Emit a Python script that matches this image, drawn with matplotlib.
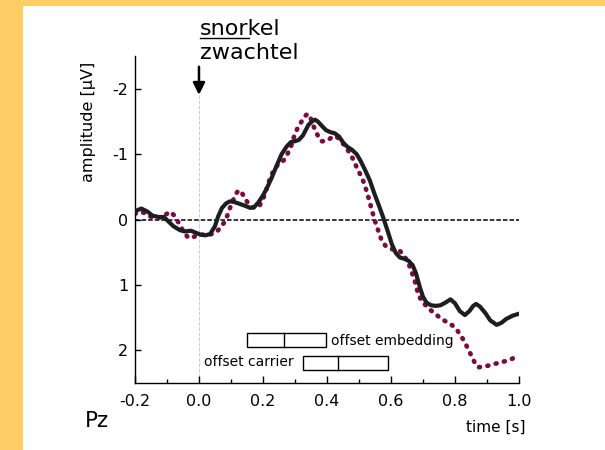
import matplotlib
matplotlib.use('Agg')
import matplotlib.pyplot as plt
from matplotlib.patches import Rectangle
from matplotlib.lines import Line2D
import numpy as np

plt.rcParams['font.family'] = 'DejaVu Sans'

# ERP at Pz: time [s] and amplitude [uV] (negative up)
t_embed = np.array([-0.2, -0.18, -0.16, -0.145, -0.125, -0.11, -0.095, -0.08, -0.06, -0.045,
                    -0.025, -0.01, 0.005, 0.02, 0.035, 0.05, 0.06, 0.072, 0.085, 0.097,
                    0.11, 0.128, 0.145, 0.16, 0.172, 0.185, 0.2, 0.212, 0.228, 0.243,
                    0.258, 0.274, 0.288, 0.3, 0.312, 0.325, 0.342, 0.355, 0.3625, 0.372,
                    0.385, 0.397, 0.41, 0.425, 0.438, 0.452, 0.465, 0.478, 0.493, 0.505,
                    0.52, 0.534, 0.548, 0.562, 0.576, 0.59, 0.603, 0.615, 0.628, 0.642,
                    0.655, 0.668, 0.678, 0.69, 0.7, 0.711, 0.725, 0.74, 0.755, 0.77,
                    0.786, 0.8, 0.815, 0.831, 0.845, 0.857, 0.866, 0.878, 0.895, 0.91,
                    0.93, 0.945, 0.96, 0.98, 1.0])
v_embed = np.array([-0.13, -0.17, -0.12, -0.06, -0.04, -0.04, 0.03, 0.10, 0.16, 0.18,
                    0.17, 0.20, 0.23, 0.24, 0.22, 0.10, -0.05, -0.18, -0.25, -0.28,
                    -0.27, -0.24, -0.21, -0.18, -0.19, -0.26, -0.37, -0.48, -0.65, -0.83,
                    -1.00, -1.12, -1.19, -1.20, -1.22, -1.29, -1.45, -1.51, -1.53, -1.50,
                    -1.43, -1.37, -1.34, -1.32, -1.27, -1.17, -1.11, -1.07, -1.00, -0.90,
                    -0.75, -0.60, -0.40, -0.22, -0.03, 0.18, 0.38, 0.51, 0.58, 0.60,
                    0.63, 0.70, 0.82, 1.03, 1.18, 1.27, 1.31, 1.32, 1.31, 1.27,
                    1.22, 1.28, 1.40, 1.46, 1.40, 1.32, 1.29, 1.33, 1.43, 1.54,
                    1.61, 1.58, 1.52, 1.47, 1.44])

t_carrier = np.array([-0.2, -0.185, -0.174, -0.158, -0.143, -0.128, -0.115, -0.1, -0.088, -0.075,
                      -0.06, -0.046, -0.033, -0.02, -0.005, 0.01, 0.025, 0.04, 0.057, 0.07,
                      0.081, 0.09, 0.097, 0.107, 0.116, 0.124, 0.133, 0.143, 0.155, 0.167,
                      0.18, 0.19, 0.2, 0.21, 0.222, 0.233, 0.245, 0.256, 0.265, 0.276,
                      0.287, 0.297, 0.308, 0.318, 0.33, 0.34, 0.347, 0.355, 0.363, 0.373,
                      0.383, 0.394, 0.404, 0.415, 0.425, 0.435, 0.445, 0.455, 0.467, 0.48,
                      0.492, 0.505, 0.517, 0.529, 0.54, 0.55, 0.561, 0.571, 0.583, 0.595,
                      0.61, 0.628, 0.642, 0.654, 0.665, 0.675, 0.683, 0.691, 0.701, 0.711,
                      0.725, 0.748, 0.765, 0.779, 0.792, 0.805, 0.818, 0.831, 0.842, 0.852,
                      0.862, 0.873, 0.886, 0.899, 0.915, 0.93, 0.946, 0.962, 0.978, 0.991, 1.0])
v_carrier = np.array([-0.09, -0.12, -0.11, -0.06, -0.03, -0.03, -0.04, -0.09, -0.12, -0.05,
                      0.08, 0.20, 0.28, 0.27, 0.24, 0.23, 0.23, 0.22, 0.18, 0.10,
                      0.03, -0.08, -0.18, -0.30, -0.40, -0.45, -0.42, -0.33, -0.24, -0.19,
                      -0.18, -0.22, -0.31, -0.45, -0.63, -0.75, -0.83, -0.87, -0.91, -1.00,
                      -1.11, -1.27, -1.40, -1.48, -1.58, -1.62, -1.58, -1.47, -1.37, -1.27,
                      -1.20, -1.20, -1.22, -1.26, -1.28, -1.25, -1.20, -1.13, -1.05, -0.94,
                      -0.81, -0.68, -0.55, -0.35, -0.15, 0.02, 0.18, 0.32, 0.40, 0.44,
                      0.46, 0.48, 0.56, 0.66, 0.80, 0.95, 1.10, 1.20, 1.28, 1.32,
                      1.39, 1.48, 1.54, 1.58, 1.62, 1.68, 1.77, 1.88, 1.99, 2.09,
                      2.19, 2.26, 2.25, 2.24, 2.22, 2.20, 2.18, 2.16, 2.13, 2.10, 2.08])

# offset boxes: [start, median, end] in s
embed_box = [0.149, 0.265, 0.397]
carrier_box = [0.324, 0.435, 0.592]
embed_box_y = [1.74, 1.95]
carrier_box_y = [2.09, 2.30]

xticks = [-0.2, 0.0, 0.2, 0.4, 0.6, 0.8, 1.0]
xticklabels = ['-0.2', '0.0', '0.2', '0.4', '0.6', '0.8', '1.0']
yticks = [-2, -1, 0, 1, 2]
yticklabels = ['-2', '-1', '0', '1', '2']

fig = plt.figure(figsize=(6.05, 4.5), dpi=100)
fig.patch.set_facecolor('#FFCC66')
fig.add_artist(Rectangle((23 / 605, 0), 1, 1 - 6 / 450, transform=fig.transFigure,
                         facecolor='white', edgecolor='none', zorder=-10))

ax = fig.add_axes([0.2231, 0.1489, 0.6347, 0.726])
ax.set_facecolor('none')
ax.set_xlim(-0.2, 1.0)
ax.set_ylim(2.5, -2.5)

ax.axhline(0, color='black', lw=1.1, dashes=(3.0, 1.3), zorder=1)
ax.plot([0, 0], [-1.91, 2.5], color='#cccccc', lw=0.7, ls='--', zorder=1)

ax.plot(t_embed, v_embed, color='#1e1e1e', lw=3.0, solid_joinstyle='round', zorder=3)
ax.plot(t_carrier, v_carrier, color='#7d0a42', lw=3.4, dashes=(0.2, 1.6),
        dash_capstyle='round', zorder=2)

# offset boxes
for box, by in [(embed_box, embed_box_y), (carrier_box, carrier_box_y)]:
    ax.add_patch(Rectangle((box[0], by[0]), box[2] - box[0], by[1] - by[0],
                           facecolor='white', edgecolor='black', lw=1.0, zorder=4))
    ax.plot([box[1], box[1]], by, color='black', lw=1.0, zorder=5)
ax.text(0.414, 1.86, 'offset embedding', fontsize=10, ha='left', va='center', zorder=5)
ax.text(0.296, 2.18, 'offset carrier', fontsize=10, ha='right', va='center', zorder=5)

# stimulus onset arrow
ax.annotate('', xy=(0, -1.91), xytext=(0, -2.34),
            arrowprops=dict(arrowstyle='-|>', color='black', lw=1.8, mutation_scale=18,
                            shrinkA=0, shrinkB=0), annotation_clip=False)

ax.spines['top'].set_visible(False)
ax.spines['right'].set_visible(False)
ax.spines['left'].set_linewidth(1.0)
ax.spines['bottom'].set_linewidth(1.0)

ax.set_xticks(xticks)
ax.set_xticklabels(xticklabels)
ax.set_xticks(np.arange(-0.1, 1.0, 0.2), minor=True)
ax.set_yticks(yticks)
ax.set_yticklabels(yticklabels)
ax.tick_params(axis='x', which='major', direction='in', length=5, width=1, pad=8, labelsize=11.5)
ax.tick_params(axis='x', which='minor', direction='in', length=3, width=1)
ax.tick_params(axis='y', direction='in', length=4, width=1, pad=5, labelsize=11.5)

fig.text(88 / 605, 1 - 122 / 450, 'amplitude [µV]', rotation=90, fontsize=11.5,
         ha='center', va='center')
fig.text(97 / 605, 1 - 421 / 450, 'Pz', fontsize=15.5, ha='center', va='center')
fig.text(525 / 605, 1 - 427 / 450, 'time [s]', fontsize=11, ha='right', va='center')

# word labels, with the carrier part underlined
fig.text(200 / 605, 1 - 35 / 450, 'snorkel', fontsize=16, ha='left', va='baseline')
fig.text(200 / 605, 1 - 59 / 450, 'zwachtel', fontsize=16, ha='left', va='baseline')
probe = fig.text(200 / 605, 1 - 35 / 450, 'snor', fontsize=16, ha='left', va='baseline', alpha=0)
fig.canvas.draw()
bb = probe.get_window_extent()
probe.remove()
x0 = bb.x0 / fig.bbox.width
x1 = bb.x1 / fig.bbox.width
yu = 1 - 38 / 450
fig.add_artist(Line2D([x0, x1], [yu, yu], transform=fig.transFigure, color='black', lw=1.0))

fig.savefig('out.png', dpi=100, facecolor=fig.get_facecolor())
